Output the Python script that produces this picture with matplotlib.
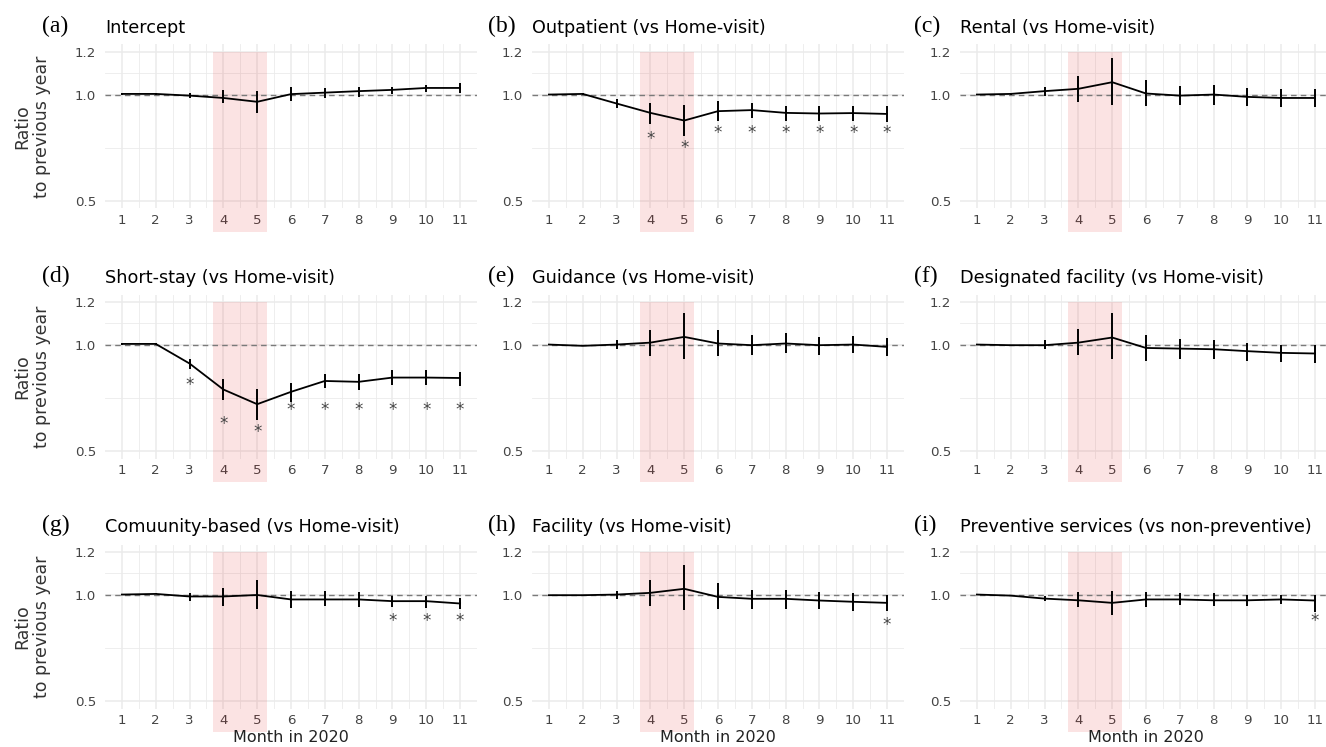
import matplotlib
matplotlib.use('Agg')
from matplotlib import pyplot as plt
from matplotlib.patches import Rectangle

plt.rcParams['font.family'] = ['DejaVu Sans']

months = list(range(1, 12))

# estimates and 95% CI, one set per panel
est_a = [1.003, 1.003, 0.995, 0.984, 0.966, 1.002, 1.009, 1.016, 1.022, 1.031, 1.031]
lo_a = [1.000, 1.000, 0.985, 0.958, 0.914, 0.972, 0.984, 0.989, 1.003, 1.011, 1.008]
hi_a = [1.006, 1.006, 1.005, 1.020, 1.016, 1.034, 1.031, 1.036, 1.036, 1.047, 1.052]

est_b = [1.000, 1.003, 0.958, 0.914, 0.878, 0.922, 0.927, 0.914, 0.911, 0.913, 0.909]
lo_b = [0.997, 1.000, 0.937, 0.864, 0.805, 0.875, 0.889, 0.875, 0.875, 0.878, 0.872]
hi_b = [1.003, 1.006, 0.977, 0.958, 0.950, 0.969, 0.962, 0.948, 0.945, 0.947, 0.945]

est_c = [1.000, 1.003, 1.016, 1.027, 1.058, 1.005, 0.995, 1.000, 0.989, 0.984, 0.984]
lo_c = [0.998, 1.000, 0.992, 0.966, 0.953, 0.945, 0.950, 0.953, 0.948, 0.942, 0.942]
hi_c = [1.002, 1.006, 1.036, 1.089, 1.172, 1.070, 1.042, 1.047, 1.031, 1.027, 1.027]

est_d = [1.003, 1.003, 0.911, 0.789, 0.720, 0.778, 0.829, 0.825, 0.845, 0.845, 0.843]
lo_d = [1.000, 1.000, 0.887, 0.739, 0.648, 0.731, 0.798, 0.786, 0.809, 0.809, 0.804]
hi_d = [1.006, 1.006, 0.934, 0.836, 0.793, 0.820, 0.861, 0.861, 0.879, 0.879, 0.871]

est_e = [1.000, 0.994, 1.000, 1.009, 1.036, 1.005, 0.997, 1.005, 0.997, 1.000, 0.989]
lo_e = [0.998, 0.992, 0.977, 0.947, 0.934, 0.947, 0.953, 0.958, 0.953, 0.958, 0.945]
hi_e = [1.002, 0.996, 1.023, 1.070, 1.146, 1.067, 1.044, 1.052, 1.036, 1.039, 1.031]

est_f = [1.000, 0.997, 0.997, 1.009, 1.033, 0.984, 0.981, 0.978, 0.969, 0.961, 0.958]
lo_f = [0.998, 0.995, 0.977, 0.950, 0.934, 0.923, 0.934, 0.931, 0.923, 0.919, 0.914]
hi_f = [1.002, 0.999, 1.020, 1.075, 1.146, 1.044, 1.025, 1.023, 1.005, 1.000, 0.997]

est_g = [1.000, 1.003, 0.991, 0.991, 0.998, 0.977, 0.977, 0.977, 0.969, 0.969, 0.958]
lo_g = [0.998, 1.001, 0.972, 0.948, 0.930, 0.936, 0.945, 0.941, 0.941, 0.937, 0.930]
hi_g = [1.002, 1.005, 1.008, 1.031, 1.070, 1.019, 1.016, 1.011, 0.995, 0.995, 0.984]

est_h = [0.997, 0.997, 1.000, 1.008, 1.027, 0.989, 0.980, 0.980, 0.972, 0.966, 0.961]
lo_h = [0.995, 0.995, 0.977, 0.948, 0.926, 0.933, 0.934, 0.934, 0.930, 0.925, 0.922]
hi_h = [0.999, 0.999, 1.019, 1.070, 1.138, 1.052, 1.023, 1.023, 1.013, 1.008, 1.000]

est_i = [1.000, 0.995, 0.981, 0.973, 0.961, 0.977, 0.977, 0.973, 0.973, 0.977, 0.972]
lo_i = [0.998, 0.993, 0.969, 0.940, 0.906, 0.940, 0.950, 0.945, 0.945, 0.956, 0.919]
hi_i = [1.002, 0.997, 0.995, 1.011, 1.019, 1.013, 1.008, 1.005, 1.000, 0.997, 1.000]

# significant months and the level where the asterisk sits
star_m_b = [4, 5, 6, 7, 8, 9, 10, 11]
star_y_b = [0.789, 0.750, 0.820, 0.820, 0.820, 0.820, 0.820, 0.820]
star_m_d = [3, 4, 5, 6, 7, 8, 9, 10, 11]
star_y_d = [0.809, 0.629, 0.590, 0.695, 0.695, 0.695, 0.695, 0.695, 0.695]
star_m_g = [9, 10, 11]
star_y_g = [0.877, 0.877, 0.877]
star_m_h = [11]
star_y_h = [0.859]
star_m_i = [11]
star_y_i = [0.878]

letters = ['(a)', '(b)', '(c)', '(d)', '(e)', '(f)', '(g)', '(h)', '(i)']
titles = ['Intercept', 'Outpatient (vs Home-visit)', 'Rental (vs Home-visit)',
          'Short-stay (vs Home-visit)', 'Guidance (vs Home-visit)',
          'Designated facility (vs Home-visit)', 'Comuunity-based (vs Home-visit)',
          'Facility (vs Home-visit)', 'Preventive services (vs non-preventive)']

panels = [
    (est_a, lo_a, hi_a, [], []),
    (est_b, lo_b, hi_b, star_m_b, star_y_b),
    (est_c, lo_c, hi_c, [], []),
    (est_d, lo_d, hi_d, star_m_d, star_y_d),
    (est_e, lo_e, hi_e, [], []),
    (est_f, lo_f, hi_f, [], []),
    (est_g, lo_g, hi_g, star_m_g, star_y_g),
    (est_h, lo_h, hi_h, star_m_h, star_y_h),
    (est_i, lo_i, hi_i, star_m_i, star_y_i),
]

W, H = 1326, 747
fig = plt.figure(figsize=(W / 100, H / 100), dpi=100)

col_left = [105, 532, 960]      # px
ax_w = 372
row_top = [44.5, 294.5, 544.5]
ax_h = 164
title_base = [33, 283, 532]
letter_x = [42, 488, 914]

for k, (est, lo, hi, sm, sy) in enumerate(panels):
    r, c = divmod(k, 3)
    ax = fig.add_axes([col_left[c] / W, 1 - (row_top[r] + ax_h) / H, ax_w / W, ax_h / H])
    ax.set_axisbelow(True)
    for s in ax.spines.values():
        s.set_visible(False)
    ax.set_xlim(0.5, 11.5)
    ax.set_ylim(0.465, 1.235)
    ax.set_xticks(months)
    ax.set_xticks([m + 0.5 for m in months[:-1]], minor=True)
    ax.set_yticks([0.5, 1.0, 1.2])
    ax.set_yticklabels(['0.5', '1.0', '1.2'])
    ax.set_yticks([0.75, 1.1], minor=True)
    ax.grid(which='major', color='#EBEBEB', lw=1.1)
    ax.grid(which='minor', color='#EBEBEB', lw=0.6)
    ax.tick_params(which='both', length=0, labelsize=9.6, labelcolor='#444444')
    ax.tick_params(axis='x', pad=4.2)
    ax.tick_params(axis='y', pad=6.5)

    ax.add_patch(Rectangle((3.7, 0.355), 1.6, 0.845, facecolor='#E31A1C', alpha=0.12,
                           lw=0, clip_on=False, zorder=1))
    ax.axhline(1.0, color='#7A7A7A', ls=(0, (4, 3)), lw=1.0, zorder=2)
    ax.plot(months, est, color='black', lw=1.3, zorder=3)
    ax.vlines(months, lo, hi, color='black', lw=1.4, zorder=3)
    for m, y in zip(sm, sy):
        ax.text(m, y, '*', ha='center', va='center', fontsize=12, color='#444444')

    fig.text(letter_x[c] / W, 1 - (title_base[r] - 1) / H, letters[k],
             family='Liberation Serif', fontsize=17, va='baseline', ha='left')
    fig.text(col_left[c] / W, 1 - title_base[r] / H, titles[k],
             fontsize=12.7, va='baseline', ha='left')

    if c == 0:
        fig.text(32 / W, 1 - (row_top[r] + ax_h / 2) / H, 'Ratio\nto previous year',
                 rotation=90, ha='center', va='center', multialignment='center',
                 fontsize=12.5, color='#333333', linespacing=1.15)
    if r == 2:
        fig.text((col_left[c] + ax_w / 2) / W, 1 - 738 / H, 'Month in 2020',
                 ha='center', va='center', fontsize=11.5, color='#222222')

fig.savefig('out.png', dpi=100)
